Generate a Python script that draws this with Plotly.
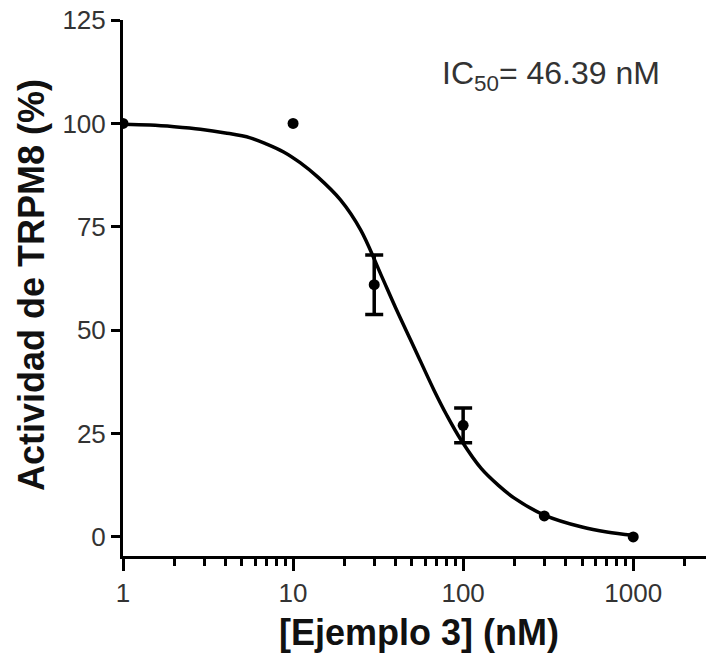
import plotly.graph_objects as go

# Measured data points
conc = [1, 10, 30, 100, 300, 1000]
activity = [100, 100, 61, 27, 5.1, 0]
err = [0, 0, 7.2, 4.2, 0, 0]

# Fitted curve
curve_x = [1, 1.44, 2.0, 2.85, 4.0, 5.6, 7.0, 8.8, 11, 14, 19, 25, 32.8, 40, 51.4, 67.4, 80, 97, 128, 160, 200, 300, 500, 700, 1000]
curve_y = [99.8, 99.6, 99.2, 98.6, 97.7, 96.5, 95.0, 93.1, 90.5, 87.0, 81.5, 74.2, 63.5, 55.5, 45.9, 35.5, 29.5, 23.5, 16.5, 12.6, 9.4, 5.3, 2.4, 1.2, 0.4]

x_ticks = [1, 10, 100, 1000]
x_ticklabels = ["1", "10", "100", "1000"]
y_ticks = [0, 25, 50, 75, 100, 125]

fig = go.Figure()
fig.add_trace(go.Scatter(
    x=curve_x, y=curve_y, mode="lines",
    line=dict(color="black", width=3.5, shape="spline"),
    hoverinfo="skip", showlegend=False,
))
# points without error bars
fig.add_trace(go.Scatter(
    x=[c for c, e in zip(conc, err) if e == 0],
    y=[a for a, e in zip(activity, err) if e == 0],
    mode="markers",
    marker=dict(color="black", size=11, symbol="circle"),
    showlegend=False,
))
# points with error bars
fig.add_trace(go.Scatter(
    x=[c for c, e in zip(conc, err) if e > 0],
    y=[a for a, e in zip(activity, err) if e > 0],
    mode="markers",
    marker=dict(color="black", size=11, symbol="circle"),
    error_y=dict(type="data", array=[e for e in err if e > 0], color="black", thickness=3.5, width=9),
    showlegend=False,
))

minor_vals = []
for d in [1, 10, 100, 1000]:
    for k in range(2, 10):
        minor_vals.append(d * k)

fig.update_layout(
    width=706, height=651,
    margin=dict(l=115, r=0, t=12, b=103),
    paper_bgcolor="white", plot_bgcolor="white",
    font=dict(family="Liberation Sans, Arial, sans-serif", color="#222"),
    xaxis=dict(
        type="log", range=[0, 3.475], automargin=False,
        tickvals=x_ticks, ticktext=x_ticklabels,
        ticks="outside", ticklen=12, tickwidth=3, tickcolor="black",
        showline=True, linecolor="black", linewidth=3,
        showgrid=False, zeroline=False, ticklabeloverflow="allow",
        tickfont=dict(size=26, color="#333"),
        minor=dict(tickvals=minor_vals, ticks="outside", ticklen=7, tickwidth=3, tickcolor="black"),
    ),
    yaxis=dict(
        range=[-4.6, 125], automargin=False,
        tickvals=y_ticks,
        ticks="outside", ticklen=9, tickwidth=3, tickcolor="black",
        showline=True, linecolor="black", linewidth=3,
        showgrid=False, zeroline=False, ticklabeloverflow="allow",
        tickfont=dict(size=26, color="#333"),
    ),
    annotations=[
        dict(text="IC<sub>50</sub>= 46.39 nM",
             xref="paper", yref="y", x=0.537, y=111.5,
             xanchor="left", yanchor="middle", showarrow=False,
             font=dict(size=32, color="#333")),
        dict(text="<b>[Ejemplo 3] (nM)</b>",
             xref="paper", yref="paper", x=0.5008, y=-0.1418,
             xanchor="center", yanchor="middle", showarrow=False,
             font=dict(size=36, color="#111")),
        dict(text="<b>Actividad de TRPM8 (%)</b>", textangle=-90,
             xref="paper", yref="paper", x=-0.154, y=0.5056,
             xanchor="center", yanchor="middle", showarrow=False,
             font=dict(size=36, color="#111")),
    ],
)

fig.write_html("out.html")
